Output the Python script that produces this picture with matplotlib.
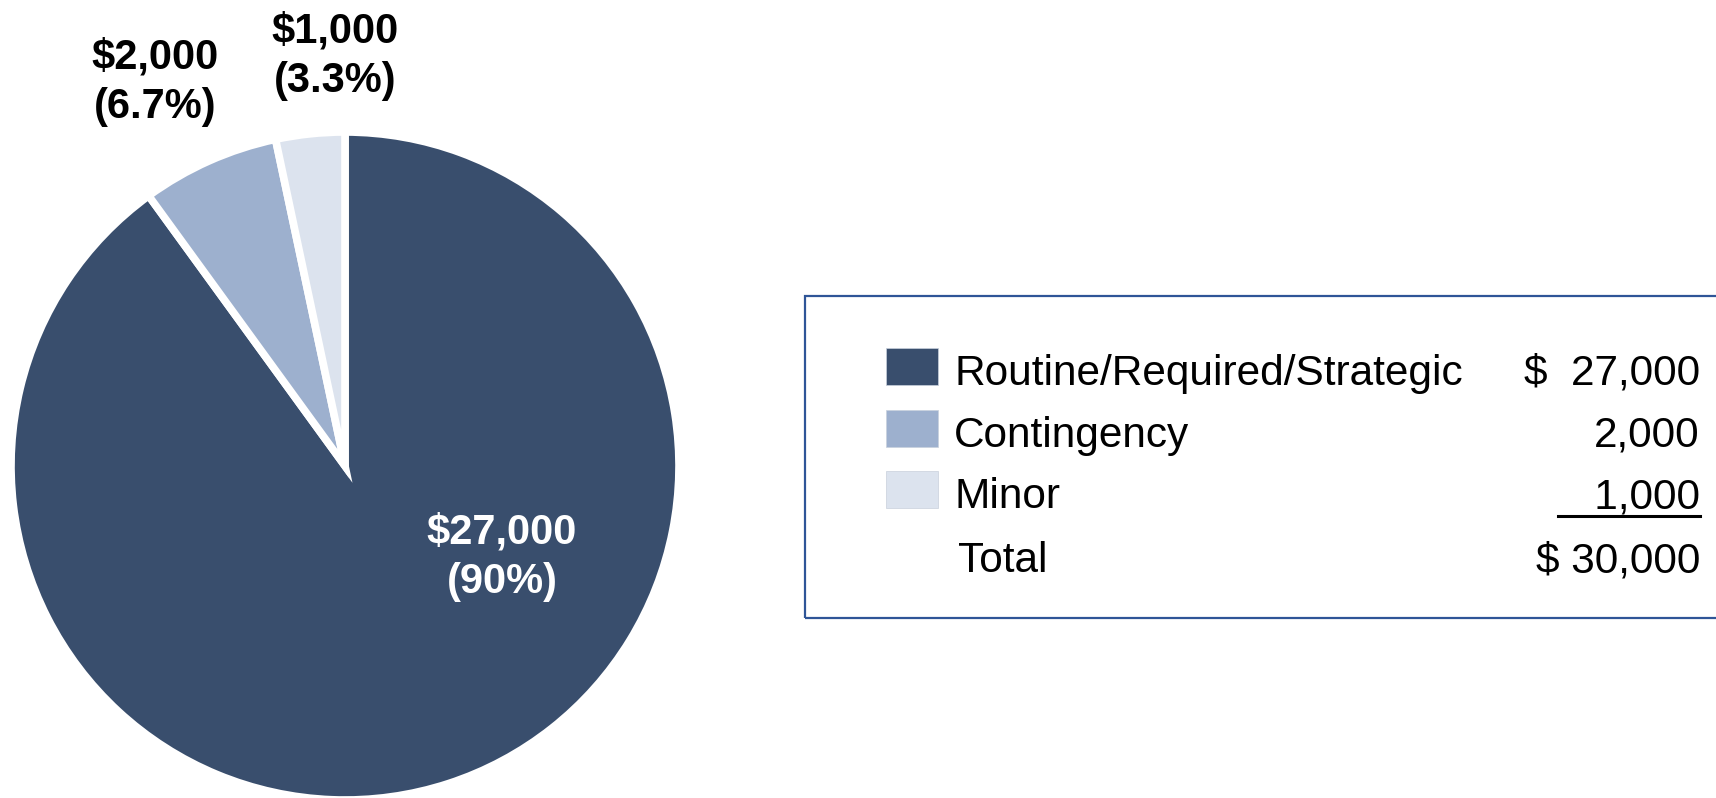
import matplotlib
matplotlib.use("Agg")
import matplotlib.pyplot as plt
from matplotlib.patches import Rectangle
from matplotlib.lines import Line2D

plt.rcParams['font.family'] = ['Liberation Sans', 'DejaVu Sans']

# ------------------------------------------------------------
# Data
# ------------------------------------------------------------
categories = ["Routine/Required/Strategic", "Contingency", "Minor"]
amounts = [27000, 2000, 1000]
value_text = ["$  27,000", "2,000", "   1,000"]
total_label = "Total"
total_text = "$ 30,000"
colors = ["#394E6D", "#9DB0CE", "#DCE3EE"]

W, H = 1716, 798
fig = plt.figure(figsize=(W / 100, H / 100), dpi=100)


def fx(px):
    return px / W


def fy(py):
    return 1 - py / H


# ------------------------------------------------------------
# Pie
# ------------------------------------------------------------
cx, cy, r = 345, 466, 334
ax = fig.add_axes([fx(cx - r), fy(cy + r), 2 * r / W, 2 * r / H])
ax.pie(amounts, colors=colors, startangle=90, counterclock=False, radius=1,
       wedgeprops=dict(edgecolor="white", linewidth=5.5))
ax.set_xlim(-1, 1)
ax.set_ylim(-1, 1)
ax.axis("off")

total = sum(amounts)


def pct(v):
    return f"{v / total * 100:.1f}".rstrip("0").rstrip(".")


labels = [f"${v:,}\n({pct(v)}%)" for v in amounts]
# label anchor points (pixels, last-line baseline)
label_pos = [(502, 593), (155, 118), (335, 92)]
label_col = ["white", "black", "black"]
for lab, (px, py), c in zip(labels, label_pos, label_col):
    fig.text(fx(px), fy(py), lab, ha="center", va="baseline", color=c,
             fontsize=30, fontweight="bold", linespacing=1.3, multialignment="center")

# ------------------------------------------------------------
# Legend table
# ------------------------------------------------------------
fig.add_artist(Rectangle((fx(805), fy(618)), fx(940), (618 - 296) / H,
                         transform=fig.transFigure, fill=False,
                         edgecolor="#2F5597", linewidth=1.6, clip_on=False))

baselines = [385, 447, 508]
for name, val, col, b in zip(categories, value_text, colors, baselines):
    fig.add_artist(Rectangle((fx(886), fy(b)), 52 / W, 37 / H,
                             transform=fig.transFigure, facecolor=col,
                             edgecolor="#C8D0DC", linewidth=0.5))
    fig.text(fx(954), fy(b), name, ha="left", va="baseline", fontsize=30.5)
    fig.text(fx(1700), fy(b), val, ha="right", va="baseline", fontsize=30.5)

fig.add_artist(Line2D([fx(1558), fx(1700)], [fy(516), fy(516)],
                      transform=fig.transFigure, color="black", linewidth=2.2))

fig.text(fx(958), fy(572), total_label, ha="left", va="baseline", fontsize=30.5)
fig.text(fx(1700), fy(572), total_text, ha="right", va="baseline", fontsize=30.5)

fig.savefig("out.png", dpi=100)
